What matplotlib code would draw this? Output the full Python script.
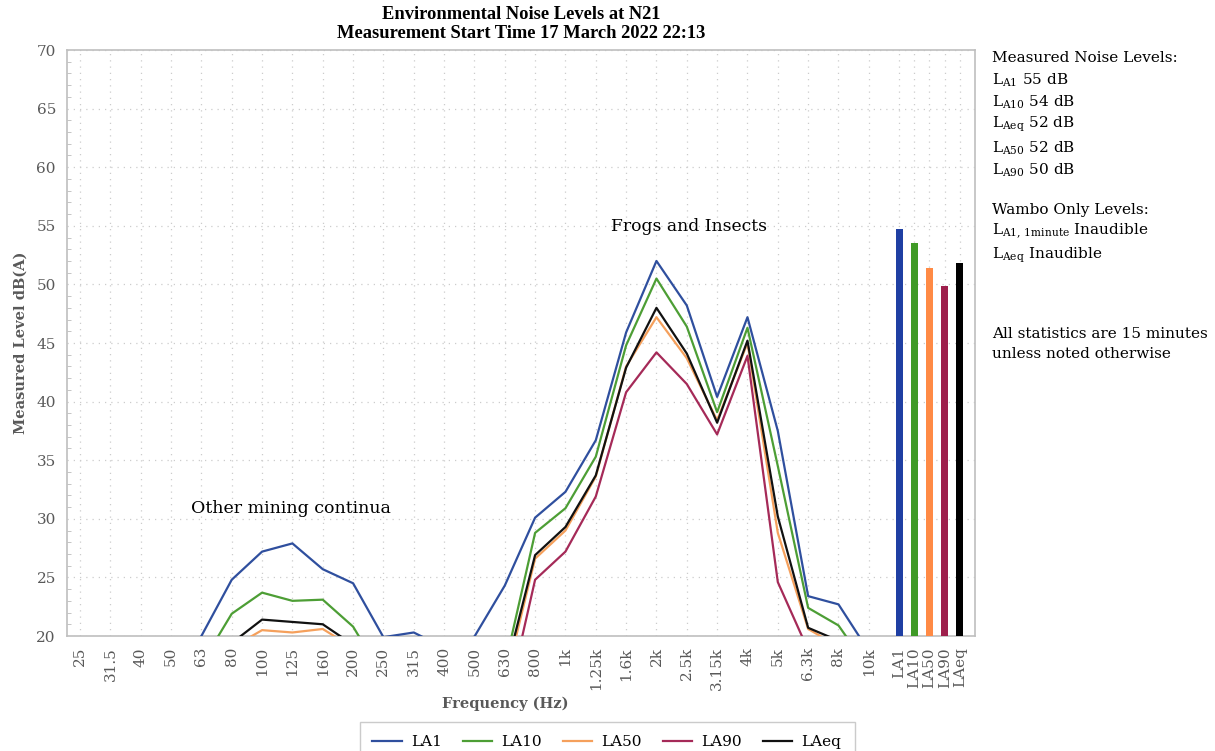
import matplotlib
matplotlib.use("Agg")
import matplotlib.pyplot as plt
import numpy as np
from matplotlib.ticker import MultipleLocator

plt.rcParams['font.family'] = ['DejaVu Serif']
plt.rcParams['mathtext.fontset'] = 'custom'
plt.rcParams['mathtext.rm'] = 'DejaVu Serif'

# Frequency bands (1/3 octave)
bandas = ['25', '31.5', '40', '50', '63', '80', '100', '125', '160', '200',
          '250', '315', '400', '500', '630', '800', '1k', '1.25k', '1.6k', '2k',
          '2.5k', '3.15k', '4k', '5k', '6.3k', '8k', '10k']

# Spectrum levels dB(A) - values under 20 are hidden below the axis
la1 = [14.0, 15.0, 16.0, 17.0, 20.0, 24.8, 27.2, 27.9, 25.7, 24.5,
       19.9, 20.3, 19.0, 19.95, 24.3, 30.1, 32.3, 36.7, 45.9, 52.0,
       48.2, 40.4, 47.2, 37.5, 23.4, 22.7, 18.7]
la10 = [12.0, 13.0, 14.0, 15.0, 17.6, 21.9, 23.7, 23.0, 23.1, 20.8,
        16.5, 15.5, 15.0, 15.5, 17.4, 28.8, 30.9, 35.3, 44.8, 50.5,
        46.4, 39.1, 46.3, 34.5, 22.4, 20.9, 17.2]
la50 = [11.0, 12.0, 13.0, 14.0, 16.0, 19.0, 20.5, 20.3, 20.6, 19.0,
        15.0, 14.5, 14.0, 14.5, 16.0, 26.6, 29.0, 33.6, 43.0, 47.2,
        43.7, 38.4, 45.0, 28.8, 20.6, 19.1, 16.0]
la90 = [10.0, 11.0, 12.0, 13.0, 14.0, 16.0, 17.5, 17.3, 17.5, 16.0,
        13.0, 12.5, 12.0, 12.5, 13.4, 24.8, 27.2, 31.9, 40.8, 44.2,
        41.5, 37.2, 43.9, 24.6, 18.8, 17.0, 15.0]
laeq = [11.5, 12.5, 13.5, 14.5, 17.0, 19.4, 21.4, 21.2, 21.0, 19.25,
        15.5, 15.0, 14.5, 15.0, 16.7, 26.9, 29.3, 33.7, 42.9, 48.0,
        44.1, 38.2, 45.2, 30.2, 20.7, 19.6, 16.5]

# Overall statistics (bars)
estadisticos = ['LA1', 'LA10', 'LA50', 'LA90', 'LAeq']
niveles = [54.75, 53.5, 51.4, 49.9, 51.8]

colores_lineas = ['#2f4f9e', '#4d9e35', '#f5a05c', '#a52a58', '#111111']
colores_barras = ['#1f3fa3', '#3f9a26', '#ff8a45', '#9e1f4c', '#000000']

fig = plt.figure(figsize=(12.15, 7.51), dpi=100)
ax = fig.add_axes([67 / 1215, 1 - 636 / 751, (975 - 67) / 1215, (636 - 50) / 751])

x = np.arange(len(bandas))
series = [la1, la10, la50, la90, laeq]
for valores, nombre, color in zip(series, estadisticos, colores_lineas):
    ax.plot(x, valores, color=color, lw=1.6, label=nombre, zorder=3)

x_barras = len(bandas) + 0.5 * np.arange(len(estadisticos))
ax.bar(x_barras, np.array(niveles) - 20, bottom=20, width=0.24,
       color=colores_barras, zorder=3)

ax.set_ylim(20, 70)
ax.set_xlim(-0.43, x_barras[-1] + 0.5)
ax.yaxis.set_major_locator(MultipleLocator(5))
ax.yaxis.set_minor_locator(MultipleLocator(1))
ax.set_xticks(list(x) + list(x_barras))
ax.set_xticklabels(bandas + estadisticos, rotation=90)

gris = '#595959'
ax.tick_params(axis='both', which='major', length=0, labelsize=11, labelcolor=gris, pad=8)
ax.tick_params(axis='y', which='minor', direction='in', length=3, color='#bbbbbb')
for lado in ax.spines.values():
    lado.set_color('#bfbfbf')
    lado.set_linewidth(1.2)

ax.grid(True, which='major', color='#cccccc', linestyle=(0, (1, 4)), lw=0.9)

ax.set_ylabel('Measured Level dB(A)', fontsize=10.5, fontweight='bold', color=gris, labelpad=6)
fig.text(505 / 1215, 1 - 704 / 751, 'Frequency (Hz)', fontsize=10.5, fontweight='bold',
         color=gris, ha='center', va='center')

fig.text(521 / 1215, 1 - 24 / 751,
         'Environmental Noise Levels at N21\nMeasurement Start Time 17 March 2022 22:13',
         ha='center', va='center', fontsize=13.3, fontweight='bold', linespacing=1.1,
         family=['Liberation Serif'])

ax.text(3.65, 30.9, 'Other mining continua', fontsize=12.5, va='center', ha='left')
ax.text(17.5, 54.9, 'Frogs and Insects', fontsize=12.3, va='center', ha='left')

# Right hand side notes
notas = [
    (58, 'Measured Noise Levels:'),
    (80, r'L$_{\mathrm{A1}}$ 55 dB'),
    (102, r'L$_{\mathrm{A10}}$ 54 dB'),
    (124, r'L$_{\mathrm{Aeq}}$ 52 dB'),
    (148, r'L$_{\mathrm{A50}}$ 52 dB'),
    (170, r'L$_{\mathrm{A90}}$ 50 dB'),
    (210, 'Wambo Only Levels:'),
    (231, r'L$_{\mathrm{A1,\,1minute}}$ Inaudible'),
    (255, r'L$_{\mathrm{Aeq}}$ Inaudible'),
    (334, 'All statistics are 15 minutes'),
    (354, 'unless noted otherwise'),
]
for y_px, texto in notas:
    fig.text(992 / 1215, 1 - y_px / 751, texto, fontsize=11, va='center', ha='left')

leg = fig.legend(loc='upper center', bbox_to_anchor=(607 / 1215, 1 - 722 / 751), ncol=5,
                 frameon=True, fontsize=11, handlelength=1.9, columnspacing=1.4,
                 handletextpad=0.6, borderpad=0.85, borderaxespad=0, fancybox=False)
leg.get_frame().set_edgecolor('#bfbfbf')

fig.savefig('out.png', dpi=100)
